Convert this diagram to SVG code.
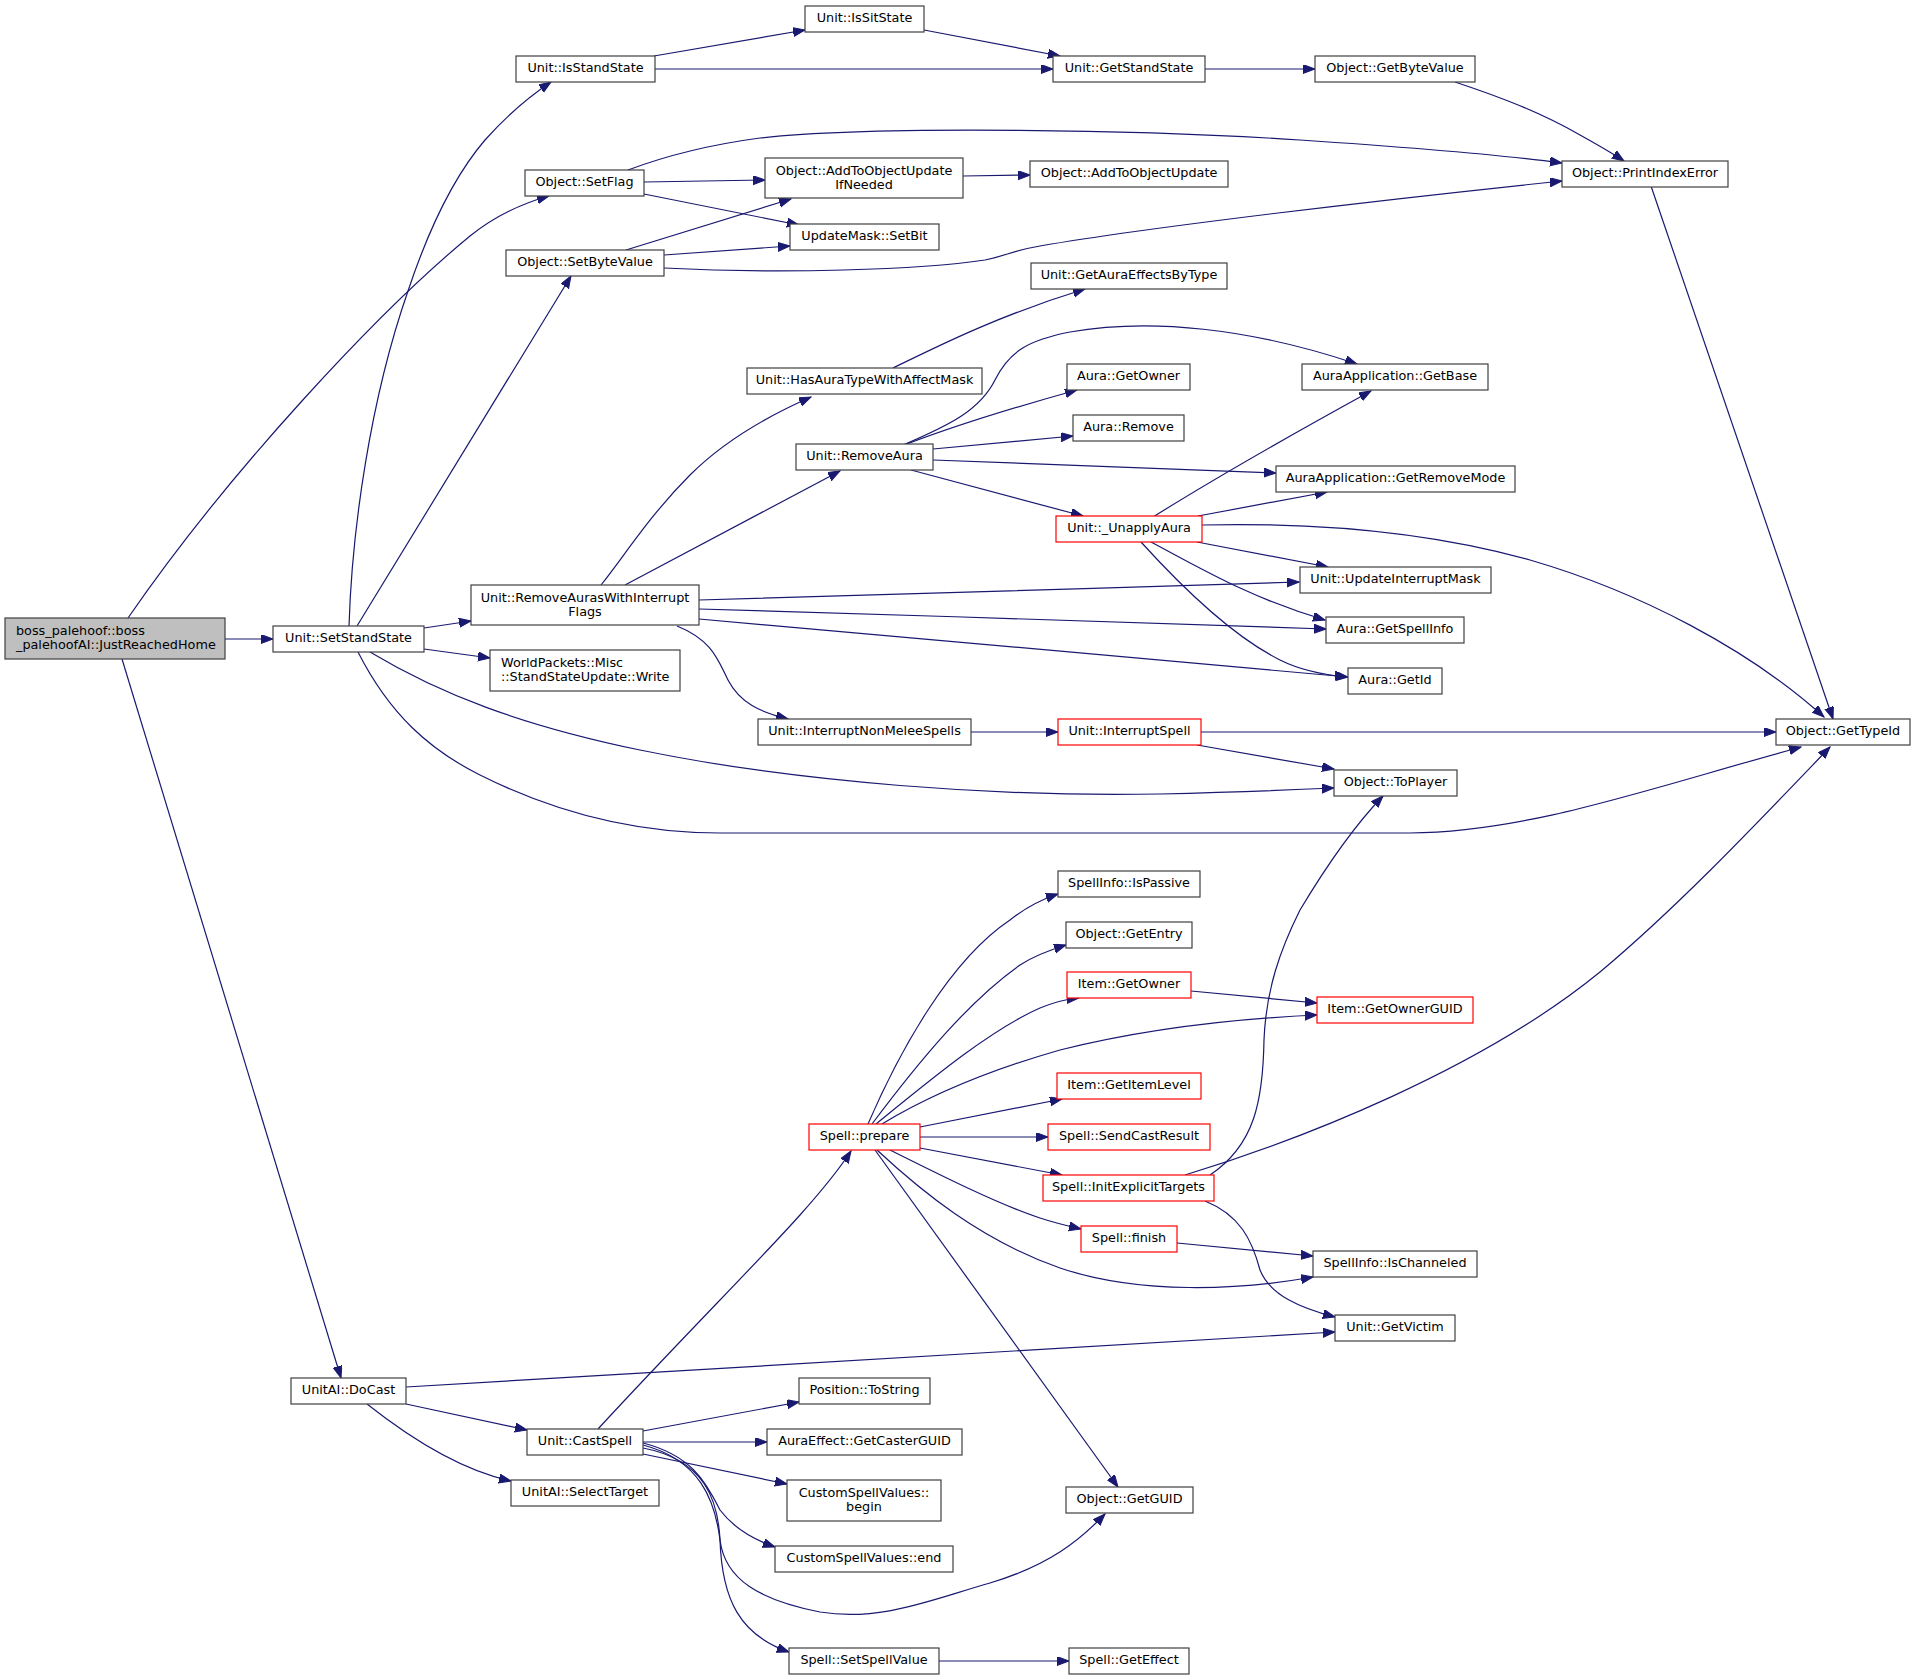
<svg xmlns="http://www.w3.org/2000/svg" width="1915" height="1679" viewBox="0 0 1915 1679">
<defs>
<marker id="a" markerUnits="userSpaceOnUse" markerWidth="13" markerHeight="10" refX="12" refY="4.5" orient="auto"><path d="M0,0 L12,4.5 L0,9 z" fill="#191970" stroke="#191970" stroke-width="1"/></marker>
</defs>
<style>
.node rect{fill:#ffffff;stroke:#404040;stroke-width:1.2}
.red rect{stroke:#ff0000}
.root rect{fill:#bfbfbf}
text{font-family:"DejaVu Sans","Liberation Sans",sans-serif;font-size:12.8px;fill:#000;text-anchor:middle}
text.l{text-anchor:start}
#edges path{fill:none;stroke:#191970;stroke-width:1.2;marker-end:url(#a)}
</style>
<rect width="1915" height="1679" fill="#ffffff"/>
<g id="edges">
<path d="M128,618 C230,470 380,310 470,236 C495,216 520,204 549,196"/>
<path d="M225,639 L273,639"/>
<path d="M122,659 L341,1378"/>
<path d="M349,626 C352,530 370,400 408,291 C430,225 455,175 485,140 C510,112 530,96 551,82"/>
<path d="M357,626 L571,276"/>
<path d="M424,628 L471,621"/>
<path d="M424,649 L490,658"/>
<path d="M370,652 C440,694 520,725 640,750 C800,783 1000,797 1160,794 C1240,792 1290,790 1334,788"/>
<path d="M358,652 C390,715 430,750 480,775 C560,815 640,833 720,833 L1410,833 C1530,832 1650,788 1801,747"/>
<path d="M654,56 L805,30"/>
<path d="M655,69 L1053,69"/>
<path d="M924,30 L1060,56"/>
<path d="M1205,69 L1315,69"/>
<path d="M1455,82 C1500,97 1540,112 1580,135 C1598,145 1612,153 1624,161"/>
<path d="M628,170 C660,158 700,146 760,138 C880,125 1150,130 1300,140 C1420,148 1510,156 1562,163"/>
<path d="M644,182 L765,180"/>
<path d="M644,194 L799,225"/>
<path d="M626,250 L791,199"/>
<path d="M664,255 L790,246"/>
<path d="M664,268 C780,274 920,270 985,260 C1005,256 1015,250 1040,246 C1150,227 1380,200 1562,181"/>
<path d="M963,176 L1030,175"/>
<path d="M1651,186 L1833,719"/>
<path d="M601,585 C625,555 650,515 690,475 C725,440 770,415 811,397"/>
<path d="M625,585 L840,471"/>
<path d="M699,600 C850,596 1100,588 1299,582"/>
<path d="M699,609 C900,614 1150,624 1326,629"/>
<path d="M699,619 C900,636 1150,660 1348,677"/>
<path d="M677,626 C712,640 718,660 728,680 C740,703 760,712 788,719"/>
<path d="M903,445 C950,425 980,410 995,380 C1010,350 1030,340 1070,332 C1150,318 1250,328 1357,364"/>
<path d="M907,444 C970,420 1030,403 1077,390"/>
<path d="M933,449 L1073,436"/>
<path d="M933,460 L1276,473"/>
<path d="M911,470 L1083,516"/>
<path d="M1153,517 C1220,475 1300,430 1371,391"/>
<path d="M1198,516 L1327,492"/>
<path d="M1202,525 C1330,522 1440,535 1530,560 C1640,592 1750,650 1824,717"/>
<path d="M1197,542 L1328,567"/>
<path d="M1151,542 C1200,568 1250,598 1325,620"/>
<path d="M1141,542 C1180,585 1230,635 1280,660 C1300,670 1325,675 1347,677"/>
<path d="M893,368 C940,345 1000,315 1085,289"/>
<path d="M971,732 L1058,732"/>
<path d="M1201,732 L1776,732"/>
<path d="M1197,745 L1334,769"/>
<path d="M406,1387 L1335,1332"/>
<path d="M406,1404 L527,1430"/>
<path d="M367,1404 C410,1438 460,1470 511,1481"/>
<path d="M598,1429 C680,1340 760,1260 800,1215 C825,1187 840,1168 851,1151"/>
<path d="M643,1431 L799,1402"/>
<path d="M643,1442 L767,1442"/>
<path d="M643,1454 L787,1484"/>
<path d="M643,1443 C690,1455 705,1480 720,1510 C735,1530 755,1540 775,1547"/>
<path d="M643,1445 C700,1460 715,1500 720,1540 C725,1580 760,1600 820,1612 C880,1622 930,1600 990,1583 C1050,1565 1080,1540 1105,1514"/>
<path d="M643,1448 C705,1460 718,1500 720,1540 C722,1600 740,1635 789,1652"/>
<path d="M939,1661 L1069,1661"/>
<path d="M868,1124 C900,1050 950,960 1010,920 C1025,908 1040,900 1058,894"/>
<path d="M872,1124 C920,1060 970,1000 1020,965 C1035,955 1050,950 1066,945"/>
<path d="M876,1124 C930,1080 990,1030 1040,1008 C1055,1002 1065,999 1079,998"/>
<path d="M882,1124 C930,1095 990,1070 1060,1050 C1140,1030 1230,1019 1317,1015"/>
<path d="M920,1127 L1062,1099"/>
<path d="M920,1137 L1048,1137"/>
<path d="M920,1148 L1062,1175"/>
<path d="M890,1150 C940,1175 1000,1205 1040,1218 C1055,1223 1068,1226 1081,1229"/>
<path d="M877,1150 C920,1190 980,1240 1060,1268 C1140,1295 1240,1290 1313,1277"/>
<path d="M875,1150 L1118,1487"/>
<path d="M1191,991 L1317,1003"/>
<path d="M1210,1175 C1255,1145 1263,1100 1264,1040 C1266,990 1280,950 1300,910 C1330,860 1355,825 1383,796"/>
<path d="M1185,1175 C1300,1140 1480,1070 1600,972 C1680,905 1760,820 1830,747"/>
<path d="M1205,1201 C1240,1215 1252,1240 1260,1270 C1270,1295 1300,1308 1335,1317"/>
<path d="M1177,1243 L1313,1256"/>
</g>
<g id="n1" class="node root"><rect x="5" y="618" width="220" height="41"/><text class="l" x="16" y="635">boss_palehoof::boss</text><text class="l" x="16" y="649">_palehoofAI::JustReachedHome</text></g>
<g id="n2" class="node"><rect x="273" y="626" width="151" height="26"/><text x="348.5" y="642">Unit::SetStandState</text></g>
<g id="n3" class="node"><rect x="471" y="585" width="228" height="40"/><text x="585" y="601.5">Unit::RemoveAurasWithInterrupt</text><text x="585" y="615.5">Flags</text></g>
<g id="n4" class="node"><rect x="490" y="650" width="190" height="41"/><text class="l" x="501" y="666.5">WorldPackets::Misc</text><text class="l" x="501" y="680.5">::StandStateUpdate::Write</text></g>
<g id="n5" class="node"><rect x="516" y="56" width="139" height="26"/><text x="585.5" y="72">Unit::IsStandState</text></g>
<g id="n6" class="node"><rect x="525" y="170" width="119" height="26"/><text x="584.5" y="186">Object::SetFlag</text></g>
<g id="n7" class="node"><rect x="506" y="250" width="158" height="26"/><text x="585" y="266">Object::SetByteValue</text></g>
<g id="n8" class="node"><rect x="805" y="6" width="119" height="26"/><text x="864.5" y="22">Unit::IsSitState</text></g>
<g id="n9" class="node"><rect x="1053" y="56" width="152" height="26"/><text x="1129" y="72">Unit::GetStandState</text></g>
<g id="n10" class="node"><rect x="765" y="158" width="198" height="40"/><text x="864" y="175">Object::AddToObjectUpdate</text><text x="864" y="189">IfNeeded</text></g>
<g id="n11" class="node"><rect x="1030" y="161" width="198" height="26"/><text x="1129" y="177">Object::AddToObjectUpdate</text></g>
<g id="n12" class="node"><rect x="790" y="224" width="149" height="26"/><text x="864.5" y="240">UpdateMask::SetBit</text></g>
<g id="n13" class="node"><rect x="1031" y="263" width="196" height="26"/><text x="1129" y="279">Unit::GetAuraEffectsByType</text></g>
<g id="n14" class="node"><rect x="747" y="368" width="235" height="26"/><text x="864.5" y="384">Unit::HasAuraTypeWithAffectMask</text></g>
<g id="n15" class="node"><rect x="1067" y="364" width="123" height="26"/><text x="1128.5" y="380">Aura::GetOwner</text></g>
<g id="n16" class="node"><rect x="1073" y="415" width="111" height="26"/><text x="1128.5" y="431">Aura::Remove</text></g>
<g id="n17" class="node"><rect x="796" y="444" width="137" height="26"/><text x="864.5" y="460">Unit::RemoveAura</text></g>
<g id="n18" class="node red"><rect x="1056" y="516" width="146" height="26"/><text x="1129" y="532">Unit::_UnapplyAura</text></g>
<g id="n19" class="node"><rect x="1315" y="56" width="160" height="26"/><text x="1395" y="72">Object::GetByteValue</text></g>
<g id="n20" class="node"><rect x="1562" y="161" width="166" height="26"/><text x="1645" y="177">Object::PrintIndexError</text></g>
<g id="n21" class="node"><rect x="1302" y="364" width="186" height="26"/><text x="1395" y="380">AuraApplication::GetBase</text></g>
<g id="n22" class="node"><rect x="1276" y="466" width="239" height="26"/><text x="1395.5" y="482">AuraApplication::GetRemoveMode</text></g>
<g id="n23" class="node"><rect x="1300" y="567" width="191" height="26"/><text x="1395.5" y="583">Unit::UpdateInterruptMask</text></g>
<g id="n24" class="node"><rect x="1326" y="617" width="138" height="26"/><text x="1395" y="633">Aura::GetSpellInfo</text></g>
<g id="n25" class="node"><rect x="1348" y="668" width="94" height="26"/><text x="1395" y="684">Aura::GetId</text></g>
<g id="n26" class="node"><rect x="1776" y="719" width="134" height="26"/><text x="1843" y="735">Object::GetTypeId</text></g>
<g id="n27" class="node"><rect x="1334" y="770" width="123" height="26"/><text x="1395.5" y="786">Object::ToPlayer</text></g>
<g id="n28" class="node red"><rect x="1317" y="997" width="156" height="26"/><text x="1395" y="1013">Item::GetOwnerGUID</text></g>
<g id="n29" class="node"><rect x="758" y="719" width="213" height="26"/><text x="864.5" y="735">Unit::InterruptNonMeleeSpells</text></g>
<g id="n30" class="node red"><rect x="1058" y="719" width="143" height="26"/><text x="1129.5" y="735">Unit::InterruptSpell</text></g>
<g id="n31" class="node"><rect x="1058" y="871" width="142" height="26"/><text x="1129" y="887">SpellInfo::IsPassive</text></g>
<g id="n32" class="node"><rect x="1066" y="922" width="126" height="26"/><text x="1129" y="938">Object::GetEntry</text></g>
<g id="n33" class="node red"><rect x="1067" y="972" width="124" height="26"/><text x="1129" y="988">Item::GetOwner</text></g>
<g id="n34" class="node red"><rect x="1057" y="1073" width="144" height="26"/><text x="1129" y="1089">Item::GetItemLevel</text></g>
<g id="n35" class="node red"><rect x="809" y="1124" width="111" height="26"/><text x="864.5" y="1140">Spell::prepare</text></g>
<g id="n36" class="node red"><rect x="1048" y="1124" width="162" height="26"/><text x="1129" y="1140">Spell::SendCastResult</text></g>
<g id="n37" class="node red"><rect x="1043" y="1175" width="171" height="26"/><text x="1128.5" y="1191">Spell::InitExplicitTargets</text></g>
<g id="n38" class="node red"><rect x="1081" y="1226" width="96" height="26"/><text x="1129" y="1242">Spell::finish</text></g>
<g id="n39" class="node"><rect x="1313" y="1251" width="164" height="26"/><text x="1395" y="1267">SpellInfo::IsChanneled</text></g>
<g id="n40" class="node"><rect x="1335" y="1315" width="120" height="26"/><text x="1395" y="1331">Unit::GetVictim</text></g>
<g id="n41" class="node"><rect x="291" y="1378" width="115" height="26"/><text x="348.5" y="1394">UnitAI::DoCast</text></g>
<g id="n42" class="node"><rect x="527" y="1429" width="116" height="26"/><text x="585" y="1445">Unit::CastSpell</text></g>
<g id="n43" class="node"><rect x="511" y="1480" width="148" height="26"/><text x="585" y="1496">UnitAI::SelectTarget</text></g>
<g id="n44" class="node"><rect x="799" y="1378" width="131" height="26"/><text x="864.5" y="1394">Position::ToString</text></g>
<g id="n45" class="node"><rect x="767" y="1429" width="195" height="26"/><text x="864.5" y="1445">AuraEffect::GetCasterGUID</text></g>
<g id="n46" class="node"><rect x="787" y="1480" width="154" height="41"/><text x="864" y="1497">CustomSpellValues::</text><text x="864" y="1511">begin</text></g>
<g id="n47" class="node"><rect x="775" y="1546" width="178" height="26"/><text x="864" y="1562">CustomSpellValues::end</text></g>
<g id="n48" class="node"><rect x="1066" y="1487" width="127" height="26"/><text x="1129.5" y="1503">Object::GetGUID</text></g>
<g id="n49" class="node"><rect x="789" y="1648" width="150" height="26"/><text x="864" y="1664">Spell::SetSpellValue</text></g>
<g id="n50" class="node"><rect x="1069" y="1648" width="120" height="26"/><text x="1129" y="1664">Spell::GetEffect</text></g>
</svg>
